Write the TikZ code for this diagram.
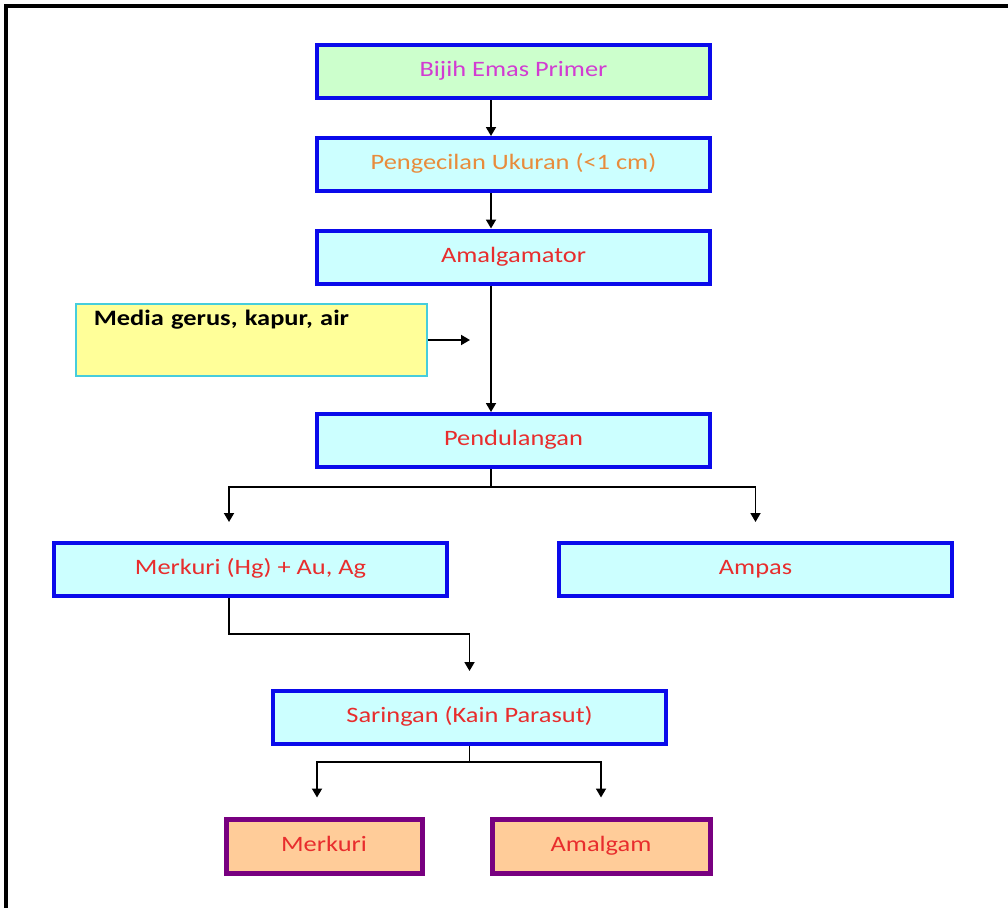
\documentclass[tikz,border=0pt]{standalone}
\usepackage{fontspec}
\setmainfont{Carlito}[FakeStretch=1.2]
\usetikzlibrary{arrows.meta,positioning}

\definecolor{boxblue}{RGB}{10,10,235}
\definecolor{greenfill}{RGB}{204,255,204}
\definecolor{cyanfill}{RGB}{204,255,255}
\definecolor{yellowfill}{RGB}{255,255,153}
\definecolor{yellowline}{RGB}{70,205,220}
\definecolor{purpleline}{RGB}{120,0,128}
\definecolor{peachfill}{RGB}{255,204,153}
\definecolor{txtmagenta}{RGB}{210,60,210}
\definecolor{txtorange}{RGB}{232,140,60}
\definecolor{txtred}{RGB}{232,45,45}

\tikzset{
  process/.style={draw=boxblue, line width=4pt, fill=cyanfill, text=txtred,
    minimum width=393pt, minimum height=53pt, inner sep=0pt,
    text height=15pt, text depth=5pt,
    font=\fontsize{22}{26}\selectfont},
  product/.style={draw=purpleline, line width=5pt, fill=peachfill, text=txtred,
    minimum height=54pt, inner sep=0pt, text height=15pt, text depth=5pt,
    font=\fontsize{22}{26}\selectfont},
  flow/.style={line width=1.8pt, -{Triangle[width=10pt,length=9pt]}},
  link/.style={line width=1.8pt}
}

\begin{document}
\begin{tikzpicture}[x=1pt,y=-1pt]
\useasboundingbox (0,0) rectangle (1008,907);
\fill[white] (0,0) rectangle (1008,907);

% Outer frame
\draw[line width=4.5pt] (6,930) -- (6,6) -- (1030,6);

% Process chain
\node[process, fill=greenfill, text=txtmagenta] (bijih) at (513.5,71.5) {Bijih Emas Primer};
\node[process, text=txtorange] (ukuran) at (513.5,164.5) {Pengecilan Ukuran (<1 cm)};
\node[process] (amalgamator) at (513.5,257) {Amalgamator};
\node[process] (dulang) at (513.5,440.5) {Pendulangan};
\node[process] (hgauag) at (250.5,569.5) {Merkuri (Hg) + Au, Ag};
\node[process] (ampas) at (755.5,569.5) {Ampas};
\node[process] (saring) at (469.5,717.5) {Saringan (Kain Parasut)};
\node[product, minimum width=196pt] (merkuri) at (324,846) {Merkuri};
\node[product, minimum width=218pt] (amalgam) at (601,846) {Amalgam};

% Added media
\node[draw=yellowline, line width=1.5pt, fill=yellowfill, anchor=north west,
  inner xsep=18pt, inner ysep=0pt, text width=315pt, align=left,
  text height=22pt, text depth=50pt,
  font=\fontsize{22}{26}\selectfont\bfseries] (media) at (75,303) {Media gerus, kapur, air};

% Helper coordinates
\path (491,0) coordinate (spine);
\path (470,340) coordinate (mediatip);
\path (229,0) coordinate (leftdrop);

% Connectors
\draw[flow] (bijih.south -| spine) -- (ukuran.north -| spine);
\draw[flow] (ukuran.south -| spine) -- (amalgamator.north -| spine);
\draw[flow] (amalgamator.south -| spine) -- (dulang.north -| spine);
\draw[flow] (media.east |- mediatip) -- (mediatip);

\draw[link] (dulang.south -| spine) -- ++(0,18) coordinate (split);
\draw[flow] (split) -| ([yshift=19pt]hgauag.north -| leftdrop);
\draw[flow] (split) -| ([yshift=19pt]ampas.north);

\draw[flow] (hgauag.south -| leftdrop) -- ++(0,36) -| ([yshift=18pt]saring.north);

\draw[link] (saring.south) -- ++(0,16) coordinate (split2);
\draw[flow] (split2) -| ([xshift=-7pt,yshift=19pt]merkuri.north);
\draw[flow] (split2) -| ([yshift=19pt]amalgam.north);
\end{tikzpicture}
\end{document}
